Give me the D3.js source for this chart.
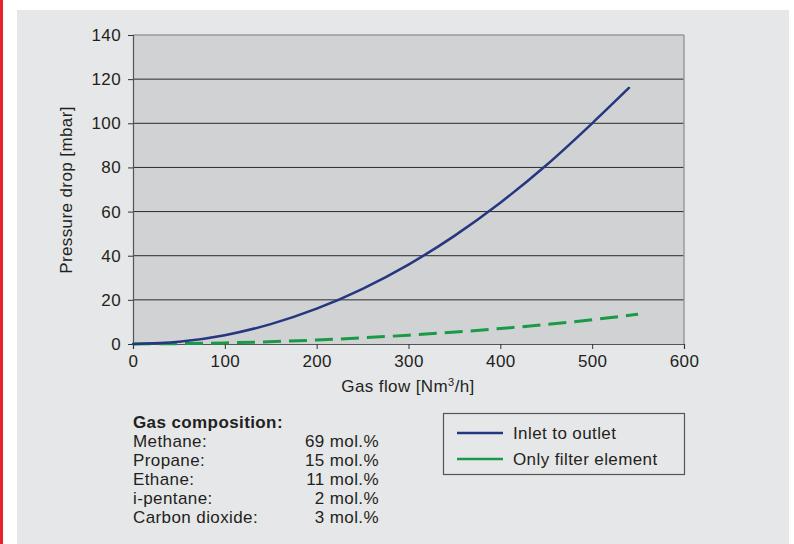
<!DOCTYPE html>
<html>
<head>
<meta charset="utf-8">
<script src="https://d3js.org/d3.v7.min.js"></script>
<style>
  body { margin: 0; background: #fff; }
  svg { display: block; font-family: "Liberation Sans", Arial, sans-serif; }
  text { letter-spacing: 0.4px; }
</style>
</head>
<body>
<svg width="794" height="544"></svg>
<script>
  // data
  const flow = [0, 50, 100, 150, 200, 250, 300, 350, 400, 450, 500, 540];
  const inletToOutlet = [0, 1, 4, 9, 16, 25, 36, 49, 64, 81, 100, 116];
  const filterFlow = [0, 100, 200, 300, 400, 500, 550];
  const filterOnly = [0, 0.5, 1.8, 4, 7, 11, 13.5];
  const xTicks = [0, 100, 200, 300, 400, 500, 600];
  const yTicks = [0, 20, 40, 60, 80, 100, 120, 140];
  const gasNames = ['Methane:', 'Propane:', 'Ethane:', 'i-pentane:', 'Carbon dioxide:'];
  const gasShares = [69, 15, 11, 2, 3];
  const seriesNames = ['Inlet to outlet', 'Only filter element'];

  const svg = d3.select('svg');
  const blue = '#24377f';
  const green = '#1a9a47';
  const ink = '#231f20';
  const fs = '17px';

  // page furniture
  svg.append('rect').attr('x', 17).attr('y', 10).attr('width', 772).attr('height', 534)
    .style('fill', '#e6e7e8');
  svg.append('rect').attr('x', 0).attr('y', 0).attr('width', 3).attr('height', 544)
    .style('fill', '#e8202a');

  const pLeft = 133, pRight = 684, pTop = 35, pBottom = 344;
  const x = d3.scaleLinear().domain([0, 600]).range([pLeft, pRight]);
  const y = d3.scaleLinear().domain([0, 140]).range([pBottom, pTop]);

  // plot area
  svg.append('rect').attr('x', pLeft).attr('y', pTop)
    .attr('width', pRight - pLeft).attr('height', pBottom - pTop)
    .style('fill', '#d1d2d4');

  // grid lines
  svg.selectAll('.grid').data(yTicks.filter(d => d > 0 && d < 140)).join('line')
    .attr('x1', pLeft).attr('x2', pRight)
    .attr('y1', d => y(d)).attr('y2', d => y(d))
    .attr('stroke', '#2b2b2b').attr('stroke-width', 1);
  svg.append('line').attr('x1', pLeft).attr('x2', pRight).attr('y1', pTop).attr('y2', pTop)
    .attr('stroke', '#9a9a9a').attr('stroke-width', 1.5);
  svg.append('line').attr('x1', pRight).attr('x2', pRight).attr('y1', pTop).attr('y2', pBottom)
    .attr('stroke', '#9a9a9a').attr('stroke-width', 1.5);

  // axes
  const yAxis = svg.append('g').attr('transform', `translate(${pLeft},0)`)
    .call(d3.axisLeft(y).tickValues(yTicks).tickSize(5).tickPadding(7));
  const xAxis = svg.append('g').attr('transform', `translate(0,${pBottom})`)
    .call(d3.axisBottom(x).tickValues(xTicks).tickSize(5).tickPadding(6));
  [xAxis, yAxis].forEach(g => {
    g.select('.domain').attr('stroke', '#555').attr('stroke-width', 1.2);
    g.selectAll('.tick line').attr('stroke', '#333');
    g.selectAll('.tick text').style('font-size', fs).style('fill', ink)
      .style('font-family', '"Liberation Sans", Arial, sans-serif');
  });

  // axis titles
  svg.append('text').attr('transform', 'translate(72,190) rotate(-90)')
    .attr('text-anchor', 'middle').style('font-size', fs).style('fill', ink)
    .text('Pressure drop [mbar]');
  const xt = svg.append('text').attr('x', 408).attr('y', 392)
    .attr('text-anchor', 'middle').style('font-size', fs).style('fill', ink);
  xt.append('tspan').text('Gas flow [Nm');
  xt.append('tspan').attr('dy', -6).style('font-size', '11px').text('3');
  xt.append('tspan').attr('dy', 6).text('/h]');

  // curves
  const line = d3.line().curve(d3.curveMonotoneX);
  svg.append('path')
    .attr('d', line(filterFlow.map((d, i) => [x(d), y(filterOnly[i])])))
    .attr('fill', 'none').attr('stroke', green).attr('stroke-width', 3)
    .attr('stroke-dasharray', '18,8');
  svg.append('path')
    .attr('d', line(flow.map((d, i) => [x(d), y(inletToOutlet[i])])))
    .attr('fill', 'none').attr('stroke', blue).attr('stroke-width', 2.5)
    .attr('stroke-linecap', 'round');

  // gas composition
  svg.append('text').attr('x', 133).attr('y', 428)
    .style('font-size', fs).style('font-weight', 'bold').style('fill', ink)
    .text('Gas composition:');
  gasNames.forEach((n, i) => {
    svg.append('text').attr('x', 133).attr('y', 447 + i * 19)
      .style('font-size', fs).style('fill', ink).text(n);
    svg.append('text').attr('x', 379).attr('y', 447 + i * 19).attr('text-anchor', 'end')
      .style('font-size', fs).style('fill', ink).text(gasShares[i] + ' mol.%');
  });

  // legend
  svg.append('rect').attr('x', 443.5).attr('y', 413.5).attr('width', 241).attr('height', 61)
    .attr('fill', 'none').attr('stroke', '#555').attr('stroke-width', 1.2);
  [blue, green].forEach((c, i) => {
    svg.append('line').attr('x1', 457).attr('x2', 503)
      .attr('y1', 433 + i * 26).attr('y2', 433 + i * 26)
      .attr('stroke', c).attr('stroke-width', 2.5);
    svg.append('text').attr('x', 513).attr('y', 439 + i * 26)
      .style('font-size', fs).style('fill', ink).text(seriesNames[i]);
  });
</script>
</body>
</html>
